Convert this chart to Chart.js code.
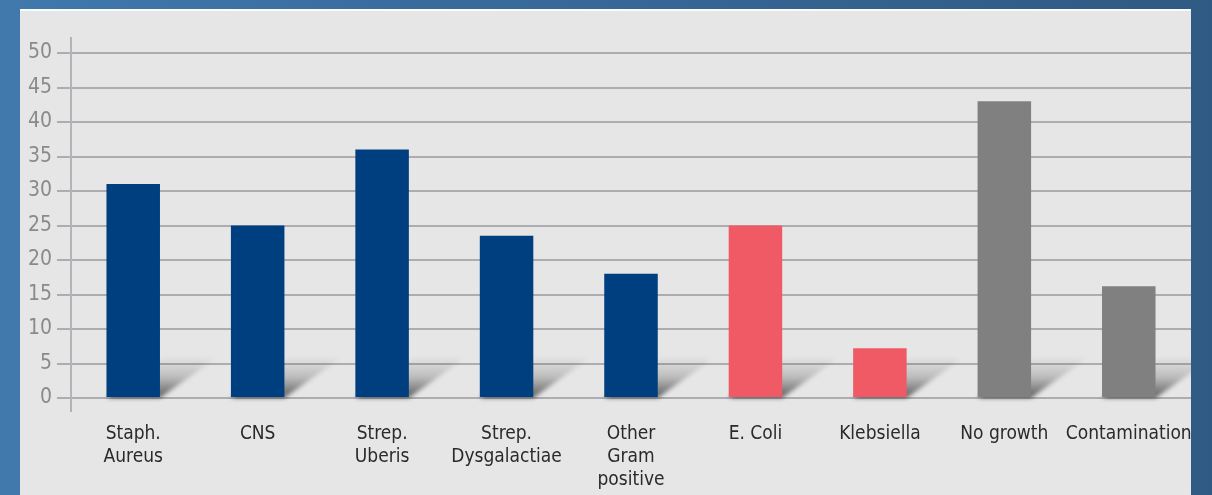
<!DOCTYPE html>
<html>
<head>
<meta charset="utf-8">
<script src="https://cdn.jsdelivr.net/npm/chart.js@4/dist/chart.umd.min.js"></script>
<style>
  html, body { margin: 0; padding: 0; }
  body { width: 1212px; height: 495px; overflow: hidden;
    background: linear-gradient(90deg, #4179ad 0%, #386a9b 40%, #2f5a83 100%); position: relative; }
  #panel { position: absolute; left: 20px; top: 9px; width: 1171px; height: 486px;
    background: #e6e6e6; border-top: 2px solid #fbfbfb; box-sizing: border-box; }
  #chart { display: block; }
</style>
</head>
<body>
<div id="panel"><canvas id="chart" width="1171" height="484"></canvas></div>
<script>
const categories = [['Staph.', 'Aureus'], 'CNS', ['Strep.', 'Uberis'], ['Strep.', 'Dysgalactiae'],
  ['Other', 'Gram', 'positive'], 'E. Coli', 'Klebsiella', 'No growth', 'Contamination'];
const values = [31, 25, 36, 23.5, 18, 25, 7.2, 43, 16.2];
const barColors = ['#003f7f', '#003f7f', '#003f7f', '#003f7f', '#003f7f', '#f05a64', '#f05a64', '#808080', '#808080'];
const yTicks = [0, 5, 10, 15, 20, 25, 30, 35, 40, 45, 50];

const FONT = "'Liberation Sans Narrow', 'DejaVu Sans Condensed', 'Roboto', sans-serif";

// soft diagonal shadow at the foot of each bar + extended y axis line
const decor = {
  id: 'decor',
  beforeDatasetsDraw(chart) {
    const ctx = chart.ctx;
    const meta = chart.getDatasetMeta(0);
    const base = chart.scales.y.getPixelForValue(0);
    const lift = base - chart.scales.y.getPixelForValue(6);
    meta.data.forEach(bar => {
      const half = bar.width / 2, l = bar.x - half, r = bar.x + half;
      const g = ctx.createLinearGradient(0, base, 0, base - lift);
      g.addColorStop(0, 'rgba(0,0,0,0.6)');
      g.addColorStop(0.5, 'rgba(0,0,0,0.18)');
      g.addColorStop(1, 'rgba(0,0,0,0)');
      ctx.save();
      ctx.filter = 'blur(2px)';
      ctx.fillStyle = g;
      ctx.beginPath();
      ctx.moveTo(l, base);
      ctx.lineTo(r, base);
      ctx.lineTo(r + lift * 1.4, base - lift);
      ctx.lineTo(l + lift * 1.4, base - lift);
      ctx.closePath();
      ctx.fill();
      ctx.restore();
    });
  },
  afterDraw(chart) {
    const ctx = chart.ctx, a = chart.chartArea;
    ctx.save();
    ctx.strokeStyle = '#b4b4b8';
    ctx.lineWidth = 2;
    ctx.beginPath();
    ctx.moveTo(a.left, a.top - 16);
    ctx.lineTo(a.left, a.bottom + 14);
    ctx.stroke();
    ctx.restore();
  }
};

new Chart(document.getElementById('chart').getContext('2d'), {
  type: 'bar',
  data: { labels: categories, datasets: [{ data: values, backgroundColor: barColors, borderWidth: 0,
    barPercentage: 0.43, categoryPercentage: 1 }] },
  options: {
    responsive: false, animation: false,
    layout: { padding: { top: 42, right: 0, left: 0, bottom: 0 } },
    plugins: { legend: { display: false }, tooltip: { enabled: false } },
    scales: {
      x: {
        grid: { display: false }, border: { display: false },
        ticks: { color: '#2a2a2a', padding: 16, maxRotation: 0, autoSkip: false,
          font: { family: FONT, size: 19, lineHeight: 1.22 } },
        afterFit: s => { s.height = 97; s.paddingLeft = 0; s.paddingRight = 0; }
      },
      y: {
        min: 0, max: 50,
        afterBuildTicks: s => { s.ticks = yTicks.map(v => ({ value: v })); },
        grid: { color: '#adadb1', lineWidth: 2, tickLength: 14, drawTicks: true },
        border: { display: false },
        ticks: { color: '#8a8a8a', padding: 5, font: { family: FONT, size: 21 } },
        afterFit: s => { s.width = 51; }
      }
    }
  },
  plugins: [decor]
});
</script>
</body>
</html>
